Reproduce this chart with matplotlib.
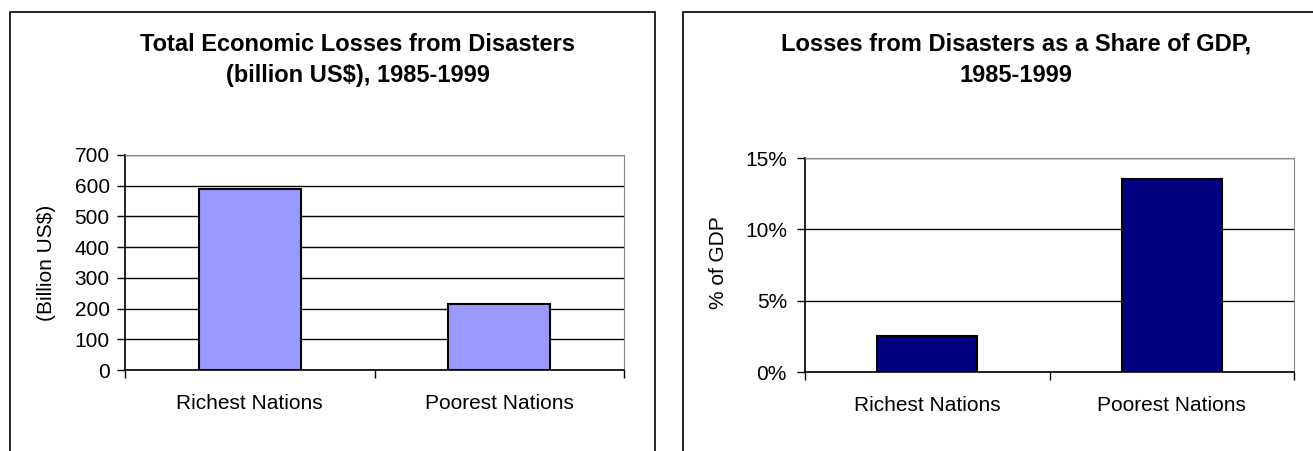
import numpy as np
import matplotlib.pyplot as plt
from matplotlib.patches import Rectangle
from matplotlib.ticker import FuncFormatter

plt.rcParams['font.family'] = ['Liberation Sans', 'DejaVu Sans']

nations = ['Richest Nations', 'Poorest Nations']
losses_bn = [590, 214]          # billion US$
losses_gdp = [2.5, 13.5]        # % of GDP

W, H = 1313, 451
fig = plt.figure(figsize=(W / 100, H / 100), dpi=100)

def px(x0, y0, x1, y1):
    # pixel box -> figure fraction [left, bottom, width, height]
    return [x0 / W, 1 - y1 / H, (x1 - x0) / W, (y1 - y0) / H]

# chart frames
for x0, x1 in [(10, 655), (683, 1330)]:
    fig.add_artist(Rectangle((x0 / W, -0.1), (x1 - x0) / W, 1.1 - 12 / H,
                             transform=fig.transFigure, fill=False,
                             edgecolor='black', lw=1.2))

def bar_panel(box, vals, color, ymax, step, fmt, ylabel, title, tx, ylab_x, ypad):
    ax = fig.add_axes(px(*box))
    x = np.arange(len(vals))
    ax.bar(x, vals, width=0.41, color=color, edgecolor='black', linewidth=1.5, zorder=3)
    ax.set_xlim(-0.5, len(vals) - 0.5)
    ax.set_ylim(0, ymax)
    ax.set_yticks(np.arange(0, ymax + step / 2, step))
    ax.yaxis.set_major_formatter(FuncFormatter(fmt))
    ax.grid(axis='y', color='black', lw=1, zorder=1)
    ax.set_xticks(x)
    ax.set_xticklabels(nations)
    ax.set_xticks(np.arange(-0.5, len(vals)), minor=True)
    ax.tick_params(axis='x', which='major', length=0, pad=17, labelsize=15)
    ax.tick_params(axis='x', which='minor', length=6, width=1, color='black')
    ax.tick_params(axis='y', length=6, width=1, labelsize=15, pad=ypad)
    for s in ['top', 'right']:
        ax.spines[s].set_color('#888888')
    for s in ['left', 'bottom']:
        ax.spines[s].set_color('black')
        ax.spines[s].set_linewidth(1.2)
    fig.text(ylab_x / W, 1 - 263 / H, ylabel, rotation=90, ha='center', va='center', fontsize=15)
    fig.text(tx / W, 1 - 60 / H, title, ha='center', va='center', fontsize=17,
             fontweight='bold', linespacing=1.45)
    return ax

bar_panel((125, 155, 624, 370), losses_bn, '#9999ff', 700, 100,
          lambda v, p: f'{v:.0f}', '(Billion US$)',
          'Total Economic Losses from Disasters\n(billion US$), 1985-1999', 358, 47, 5)

bar_panel((805, 158, 1294, 372), losses_gdp, '#000080', 15, 5,
          lambda v, p: f'{v:.0f}%', '% of GDP',
          'Losses from Disasters as a Share of GDP,\n1985-1999', 1016, 718, 7)

fig.savefig('out.png', dpi=100)
